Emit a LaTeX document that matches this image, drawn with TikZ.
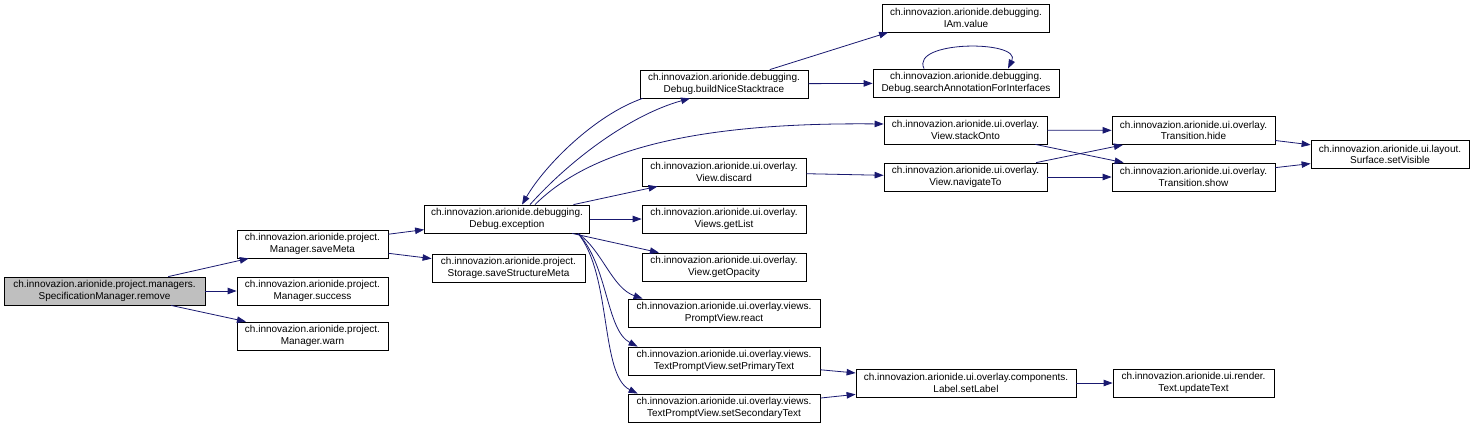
\documentclass[tikz,border=0pt]{standalone}
\usepackage{fontspec}
\setmainfont{Liberation Sans}
\usepackage{xcolor}
\usetikzlibrary{arrows.meta,positioning,calc}
\definecolor{edgeblue}{HTML}{191970}

\begin{document}
\begin{tikzpicture}[
    x=1pt, y=-1pt,
    box/.style={rectangle, draw=black, line width=0.8pt, fill=white, align=center, minimum height=28pt, inner sep=1pt, font=\fontsize{10}{11.5}\selectfont},
    rootbox/.style={box, fill=black!25},
    arrow/.style={-{Triangle[length=9pt,width=6.5pt]}, line width=0.8pt, draw=edgeblue}
]
    \useasboundingbox (0,0) rectangle (1474,426);

    \node [rootbox, minimum width=201pt] (n1) at (104.5,291) {ch.innovazion.arionide.project.managers.\\SpecificationManager.remove};
    \node [box, minimum width=151pt] (n2) at (312.5,244) {ch.innovazion.arionide.project.\\Manager.saveMeta};
    \node [box, minimum width=151pt] (n3) at (312.5,291) {ch.innovazion.arionide.project.\\Manager.success};
    \node [box, minimum width=151pt] (n4) at (312.5,336) {ch.innovazion.arionide.project.\\Manager.warn};
    \node [box, minimum width=165pt] (n5) at (507,219) {ch.innovazion.arionide.debugging.\\Debug.exception};
    \node [box, minimum width=153pt] (n6) at (508.5,268) {ch.innovazion.arionide.project.\\Storage.saveStructureMeta};
    \node [box, minimum width=168pt] (n7) at (724,84) {ch.innovazion.arionide.debugging.\\Debug.buildNiceStacktrace};
    \node [box, minimum width=164pt] (n8) at (724,172) {ch.innovazion.arionide.ui.overlay.\\View.discard};
    \node [box, minimum width=164pt] (n9) at (724,219) {ch.innovazion.arionide.ui.overlay.\\Views.getList};
    \node [box, minimum width=164pt] (n10) at (724,267) {ch.innovazion.arionide.ui.overlay.\\View.getOpacity};
    \node [box, minimum width=192pt] (n11) at (724,313) {ch.innovazion.arionide.ui.overlay.views.\\PromptView.react};
    \node [box, minimum width=192pt] (n12) at (724,361) {ch.innovazion.arionide.ui.overlay.views.\\TextPromptView.setPrimaryText};
    \node [box, minimum width=192pt] (n13) at (724,408) {ch.innovazion.arionide.ui.overlay.views.\\TextPromptView.setSecondaryText};
    \node [box, minimum width=167pt] (n14) at (966,18) {ch.innovazion.arionide.debugging.\\IAm.value};
    \node [box, minimum width=186pt] (n15) at (966,83) {ch.innovazion.arionide.debugging.\\Debug.searchAnnotationForInterfaces};
    \node [box, minimum width=163pt] (n16) at (965.5,130) {ch.innovazion.arionide.ui.overlay.\\View.stackOnto};
    \node [box, minimum width=163pt] (n17) at (965.5,177) {ch.innovazion.arionide.ui.overlay.\\View.navigateTo};
    \node [box, minimum width=163pt] (n18) at (1193.5,130.5) {ch.innovazion.arionide.ui.overlay.\\Transition.hide};
    \node [box, minimum width=163pt] (n19) at (1193.5,177) {ch.innovazion.arionide.ui.overlay.\\Transition.show};
    \node [box, minimum width=158pt] (n20) at (1390,154.5) {ch.innovazion.arionide.ui.layout.\\Surface.setVisible};
    \node [box, minimum width=220pt] (n21) at (966,383) {ch.innovazion.arionide.ui.overlay.components.\\Label.setLabel};
    \node [box, minimum width=161pt] (n22) at (1193.5,383) {ch.innovazion.arionide.ui.render.\\Text.updateText};

    \draw [arrow] (n1) -- (n2);
    \draw [arrow] (n1) -- (n3);
    \draw [arrow] (n1) -- (n4);
    \draw [arrow] (n2) -- (n5);
    \draw [arrow] (n2) -- (n6);

    % exception and its callees
    \draw [arrow] ([xshift=23pt]n5.north) .. controls (570,160) and (630,115) .. ([xshift=-34pt]n7.south);
    \draw [arrow] ([xshift=3pt]n7.south west) .. controls (595,115) and (545,165) .. ([xshift=15pt]n5.north);
    \draw [arrow] ([xshift=28pt]n5.north) .. controls (585,155) and (680,122) .. ([yshift=6pt]n16.west);
    \draw [arrow] (n5) -- (n8);
    \draw [arrow] (n5) -- (n9);
    \draw [arrow] (n5) -- (n10);
    \draw [arrow] ([xshift=71pt]n5.south) .. controls (602,250) and (612,288) .. ([xshift=15pt]n11.north west);
    \draw [arrow] ([xshift=71pt]n5.south) .. controls (608,265) and (606,330) .. ([xshift=10pt]n12.north west);
    \draw [arrow] ([xshift=71pt]n5.south) .. controls (612,275) and (600,375) .. ([xshift=10pt]n13.north west);

    \draw [arrow] (n7) -- ([xshift=6pt]n14.south west);
    \draw [arrow] (n7) -- (n15);
    \draw [arrow] ([xshift=-42pt]n15.north) .. controls (910,40) and (1022,40) .. ([xshift=42pt]n15.north);

    \draw [arrow] (n8) -- (n17);
    \draw [arrow] (n16) -- (n18);
    \draw [arrow] (n16) -- (n19);
    \draw [arrow] (n17) -- (n18);
    \draw [arrow] (n17) -- (n19);
    \draw [arrow] (n18) -- (n20);
    \draw [arrow] (n19) -- (n20);

    \draw [arrow] (n12) -- (n21);
    \draw [arrow] (n13) -- (n21);
    \draw [arrow] (n21) -- (n22);
\end{tikzpicture}
\end{document}
